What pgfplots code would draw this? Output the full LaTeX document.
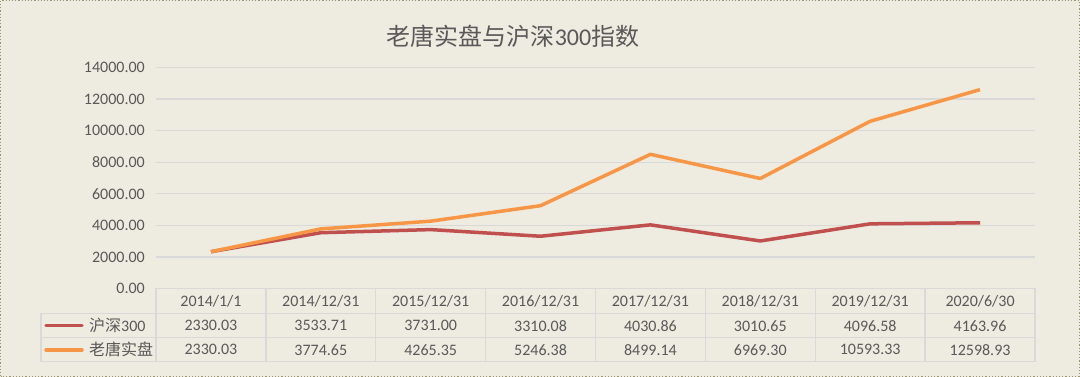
\documentclass[border=0pt]{standalone}
\usepackage{pgfplots}
\pgfplotsset{compat=1.18}
\usepackage{fontspec}
\setmainfont{Carlito}
\newfontfamily\cjk{Noto Sans CJK SC}
\definecolor{bg}{HTML}{EEEBE0}
\definecolor{txt}{HTML}{595959}
\definecolor{gridc}{HTML}{D9D9D9}
\definecolor{hs}{HTML}{C0504D}
\definecolor{lt}{HTML}{F79646}
\definecolor{brd}{HTML}{9C9670}
\begin{document}
\begin{tikzpicture}[x=1pt,y=1pt]
\fill[bg] (0,0) rectangle (1080,377);
\draw[brd, dotted, line width=1.2pt] (0.6,0.6) rectangle (1079.4,376.4);
\node[text=txt, font=\fontsize{24}{28}\selectfont] at (513,341) {{\cjk 老唐实盘与沪深}300{\cjk 指数}};
\begin{axis}[at={(156pt,88.5pt)}, anchor=south west, scale only axis,
  width=879pt, height=221pt,
  xmin=-0.5, xmax=7.5, ymin=0, ymax=14000,
  ytick distance=2000, ymajorgrids,
  grid style={gridc, line width=1.2pt},
  axis line style={draw=none}, tick style={draw=none},
  xtick={0,...,7},
  xticklabels={2014/1/1,2014/12/31,2015/12/31,2016/12/31,2017/12/31,2018/12/31,2019/12/31,2020/6/30},
  xticklabel style={anchor=center, yshift=-12.5pt, text=txt, font=\fontsize{16}{19}\selectfont},
  scaled y ticks=false,
  yticklabel style={anchor=east, inner sep=0pt, xshift=-11pt, text=txt, font=\fontsize{16}{19}\selectfont,
    /pgf/number format/.cd, fixed, fixed zerofill, precision=2, 1000 sep={}, assume math mode=true},
  clip=false]
\addplot[hs, line width=3.5pt, line join=round] coordinates {
(0,2330.03) (1,3533.71) (2,3731.00) (3,3310.08) (4,4030.86) (5,3010.65) (6,4096.58) (7,4163.96)};
\addplot[lt, line width=3.5pt, line join=round] coordinates {
(0,2330.03) (1,3774.65) (2,4265.35) (3,5246.38) (4,8499.14) (5,6969.30) (6,10593.33) (7,12598.93)};
\end{axis}
% data table
\begin{scope}[gridc, line width=1.3pt]
\draw (156,88.5) -- (1035,88.5);
\draw (41,63.7) -- (1035,63.7);
\draw (41,39.2) -- (1035,39.2);
\draw (41,15.3) -- (1035,15.3);
\draw (41,15.3) -- (41,63.7);
\foreach \k in {0,...,8} \draw ({156+109.875*\k},15.3) -- ({156+109.875*\k},88.5);
\end{scope}
\begin{scope}[text=txt, font=\fontsize{16}{19}\selectfont]
\foreach \v [count=\i from 0] in {2330.03,3533.71,3731.00,3310.08,4030.86,3010.65,4096.58,4163.96}
  \node at ({156+109.875*(\i+0.5)},51.3) {\v};
\foreach \v [count=\i from 0] in {2330.03,3774.65,4265.35,5246.38,8499.14,6969.30,10593.33,12598.93}
  \node at ({156+109.875*(\i+0.5)},27.2) {\v};
\draw[hs, line width=3.5pt, line cap=round] (46,51.3) -- (82,51.3);
\draw[lt, line width=3.5pt, line cap=round] (46,27.2) -- (82,27.2);
\node[anchor=west, inner sep=0pt] at (89,51.3) {{\cjk 沪深}300};
\node[anchor=west, inner sep=0pt] at (89,27.2) {\cjk 老唐实盘};
\end{scope}
\end{tikzpicture}
\end{document}
